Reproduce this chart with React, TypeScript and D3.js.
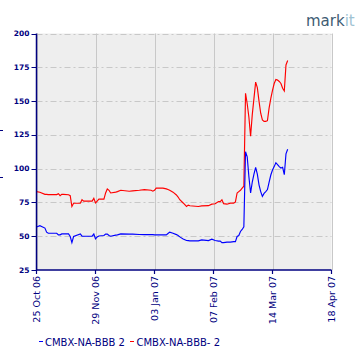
import React from "react";
import * as d3 from "d3";

const dates = [
  "2006-10-25","2006-10-27","2006-10-30","2006-10-31","2006-11-01","2006-11-03","2006-11-06","2006-11-07","2006-11-08","2006-11-09",
  "2006-11-10","2006-11-13","2006-11-14","2006-11-15","2006-11-16","2006-11-20","2006-11-21","2006-11-22","2006-11-27","2006-11-28",
  "2006-11-29","2006-11-30","2006-12-01","2006-12-04","2006-12-05","2006-12-06","2006-12-07","2006-12-08","2006-12-11","2006-12-12",
  "2006-12-14","2006-12-19","2006-12-21","2006-12-25","2006-12-28","2007-01-01","2007-01-02","2007-01-03","2007-01-04","2007-01-08",
  "2007-01-10","2007-01-11","2007-01-12","2007-01-14","2007-01-16","2007-01-17","2007-01-18","2007-01-20","2007-01-22","2007-01-23",
  "2007-01-24","2007-01-29","2007-01-31","2007-02-04","2007-02-06","2007-02-08","2007-02-10","2007-02-11","2007-02-12","2007-02-13",
  "2007-02-15","2007-02-17","2007-02-19","2007-02-20","2007-02-21","2007-02-22","2007-02-23","2007-02-24","2007-02-25","2007-02-26",
  "2007-02-27","2007-02-28","2007-03-01","2007-03-02","2007-03-03","2007-03-04","2007-03-05","2007-03-06","2007-03-07","2007-03-08",
  "2007-03-09","2007-03-10","2007-03-11","2007-03-12","2007-03-13","2007-03-14","2007-03-15","2007-03-16","2007-03-17","2007-03-18",
  "2007-03-19","2007-03-20","2007-03-21","2007-03-22","2007-03-23",
];

const bbbMinus = [
  83, 82.5, 81, 81, 80.8, 80.8, 80.8, 81.5, 80, 81,
  81, 80.7, 80, 72, 74.4, 74.4, 77, 76, 76, 78,
  74.6, 76, 77.4, 77.4, 82, 85, 84, 82, 82.6, 83,
  84, 83.3, 83.5, 84, 84.5, 84, 83.3, 84, 85.6, 85.6,
  85, 84.5, 84, 82.6, 80.5, 79, 77, 74.6, 72, 73,
  72.5, 72, 72.4, 72.6, 73.7, 74, 75.6, 75.6, 77, 74.1,
  73.7, 74.5, 74.5, 75.4, 82, 83, 84, 85.5, 87, 155.7,
  148, 138, 124, 140, 152, 164, 160, 150, 141, 136,
  135, 135, 135.5, 145, 152, 158, 163, 166, 165.5, 164.5,
  163, 159.5, 157.5, 176.7, 180,
];

const bbb = [
  56.8, 57.8, 56, 53, 52.2, 52.2, 52.2, 51, 51, 51.7,
  51.7, 51.7, 49.8, 45.3, 49.8, 51.7, 50, 50, 50, 51.6,
  48, 49.5, 50.2, 50.5, 51.6, 51.6, 50.5, 50, 50.8, 51,
  51.7, 51.5, 51.5, 51.3, 51.2, 51.2, 51.2, 51, 51, 51,
  51, 52, 53, 52.2, 51.2, 50.5, 49.5, 48, 46.8, 46.7,
  46.6, 46.6, 47.3, 46.8, 47.8, 46.8, 46.4, 46.4, 45.3, 45.3,
  45.6, 45.6, 46, 46, 49.8, 50.5, 53.5, 55, 57, 112.5,
  108.8, 94, 82, 90, 96, 101, 96, 88, 83, 79.5,
  81.7, 83, 84.5, 90, 95.3, 99, 101.5, 104.4, 103, 101.5,
  100.5, 101, 95.5, 111, 114.3,
];

const yTicks = [25, 50, 75, 100, 125, 150, 175, 200];
const xTickLabels = ["25 Oct 06", "29 Nov 06", "03 Jan 07", "07 Feb 07", "14 Mar 07", "18 Apr 07"];
const seriesNames = ["CMBX-NA-BBB 2", "CMBX-NA-BBB- 2"];
const seriesColors = ["#0000ff", "#ff0000"];

const parseDate = d3.timeParse("%Y-%m-%d");
const parseTick = d3.timeParse("%d %b %y");
const fmtTick = d3.timeFormat("%d %b %y");

const NAVY = "#000080";
const GRID = "#c8c8c8";
const FONT = "DejaVu Sans, sans-serif";

export default function App() {
  const left = 36.5, right = 331.5, top = 33.5, bottom = 270;
  const tickDates = xTickLabels.map((s) => parseTick(s) as Date);
  const x = d3.scaleTime().domain([tickDates[0], tickDates[tickDates.length - 1]]).range([left, right]);
  const y = d3.scaleLinear().domain([25, 200]).range([bottom, top]);

  const pts = dates.map((d, i) => ({ date: parseDate(d) as Date, b: bbb[i], bm: bbbMinus[i] }));
  const lineB = d3.line<any>().x((d) => x(d.date)).y((d) => y(d.b));
  const lineBM = d3.line<any>().x((d) => x(d.date)).y((d) => y(d.bm));

  return (
    <svg
      width={360}
      height={360}
      style={{ position: "absolute", left: 0, top: 0, background: "#ffffff" }}
    >
      <rect x={0} y={0} width={360} height={360} fill="#ffffff" />
      {/* logo */}
      <text x={306} y={26} fontFamily={FONT} fontSize={15} fill="#3e5c73">
        mark<tspan fill="#9fc3d3">it</tspan>
      </text>

      {/* plot background */}
      <rect x={left} y={top} width={right - left} height={bottom - top} fill="#eeeeee" />

      {/* vertical grid */}
      {tickDates.map((d, i) => (
        <line key={"vg" + i} x1={Math.round(x(d)) + 0.5} x2={Math.round(x(d)) + 0.5} y1={top} y2={bottom} stroke={GRID} strokeWidth={1} />
      ))}
      {/* horizontal grid */}
      {yTicks.filter((t) => t > 25).map((t) => (
        <line key={"hg" + t} x1={left} x2={right} y1={Math.round(y(t)) + 0.5} y2={Math.round(y(t)) + 0.5} stroke={GRID} strokeWidth={1} strokeDasharray="6,3,2,3" />
      ))}

      {/* series */}
      <path d={lineBM(pts) || ""} fill="none" stroke={seriesColors[1]} strokeWidth={1.15} strokeLinejoin="miter" />
      <path d={lineB(pts) || ""} fill="none" stroke={seriesColors[0]} strokeWidth={1.15} strokeLinejoin="miter" />

      {/* y axis */}
      <line x1={left} x2={left} y1={top} y2={bottom} stroke={NAVY} strokeWidth={1.5} />
      {yTicks.map((t) => (
        <g key={"yt" + t}>
          <line x1={left - 5} x2={left} y1={Math.round(y(t)) + 0.5} y2={Math.round(y(t)) + 0.5} stroke={NAVY} strokeWidth={1} />
          <text x={left - 7} y={y(t)} dy="0.35em" textAnchor="end" fontFamily={FONT} fontSize={7.5} fontWeight="bold" fill={NAVY}>
            {t}
          </text>
        </g>
      ))}

      {/* x axis */}
      <line x1={left} x2={right} y1={bottom} y2={bottom} stroke={NAVY} strokeWidth={1.5} />
      {tickDates.map((d, i) => (
        <g key={"xt" + i}>
          <line x1={x(d)} x2={x(d)} y1={bottom} y2={bottom + 4} stroke={NAVY} strokeWidth={1.2} />
          <text
            transform={`translate(${x(d)},${bottom + 6}) rotate(-90)`}
            dy="0.35em"
            textAnchor="end"
            fontFamily={FONT}
            fontSize={9.5}
            fill={NAVY}
          >
            {fmtTick(d)}
          </text>
        </g>
      ))}

      {/* clipped axis title remnants */}
      <line x1={0} x2={3} y1={130.5} y2={130.5} stroke={NAVY} strokeWidth={1} />
      <line x1={0} x2={3} y1={177.5} y2={177.5} stroke={NAVY} strokeWidth={1} />

      {/* legend */}
      <line x1={39} x2={43} y1={341.5} y2={341.5} stroke={seriesColors[0]} strokeWidth={1} />
      <text x={45} y={345.5} fontFamily={FONT} fontSize={10} fill={NAVY}>{seriesNames[0]}</text>
      <line x1={130} x2={134} y1={341.5} y2={341.5} stroke={seriesColors[1]} strokeWidth={1} />
      <text x={136.5} y={345.5} fontFamily={FONT} fontSize={10} fill={NAVY}>{seriesNames[1]}</text>
    </svg>
  );
}
